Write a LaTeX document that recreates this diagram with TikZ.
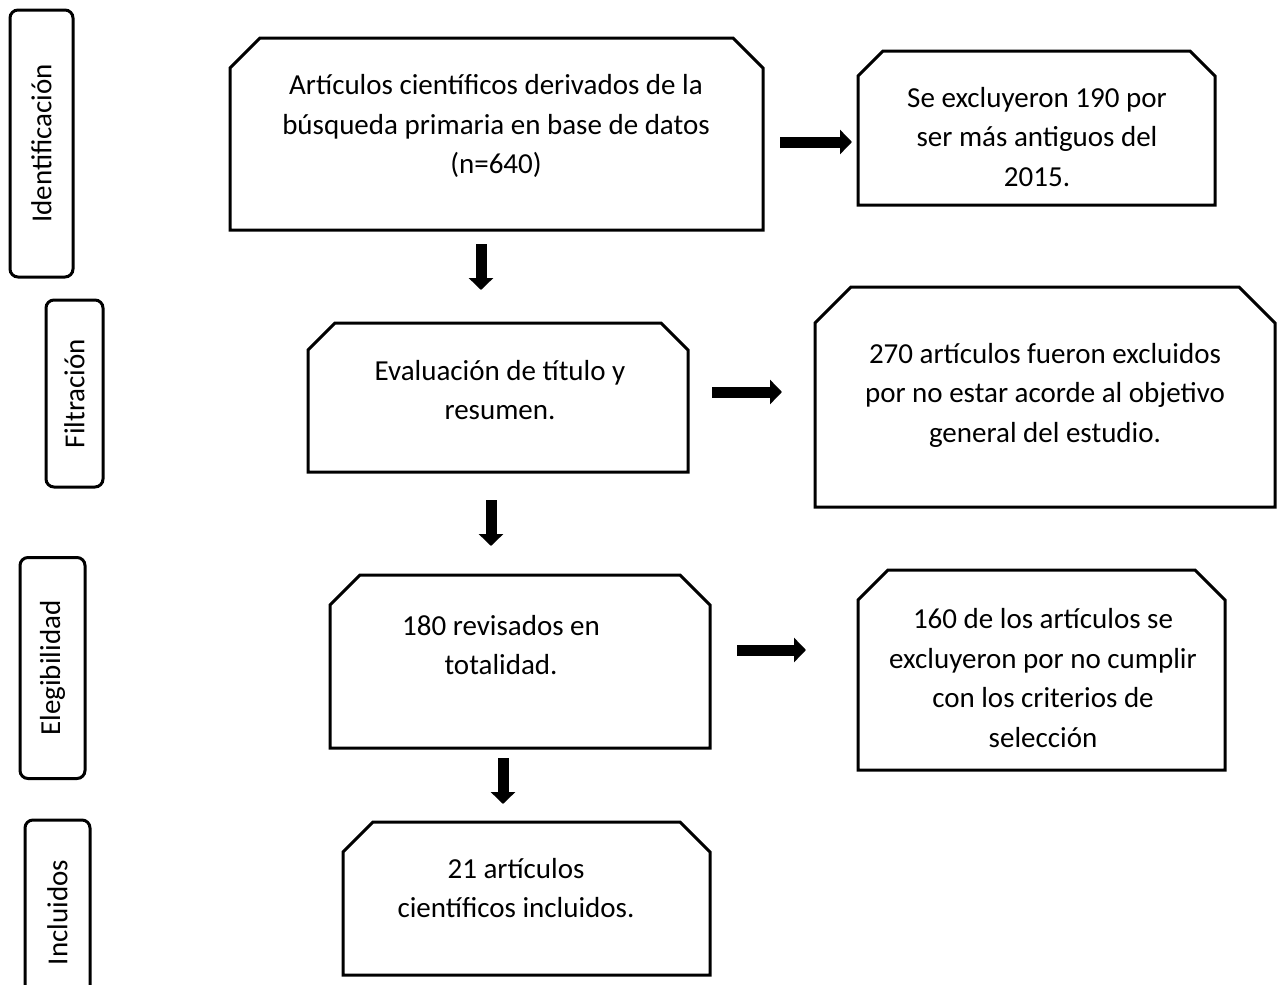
\documentclass[tikz,border=0pt]{standalone}
\usepackage{fontspec}
\setmainfont{Carlito}
\usetikzlibrary{arrows.meta}

\tikzset{every picture/.style={line width=1.5pt}}
\tikzset{
  etapa/.style={draw,rectangle,rounded corners=4pt,rotate=90,inner sep=0pt,font=\fontsize{14.5}{17}\selectfont},
  caja/.style={rectangle,inner sep=0pt,outer sep=0pt},
  texto/.style={align=center,inner sep=0pt,font=\fontsize{14.5}{19.75}\selectfont},
  flecha/.style={line width=5.5pt,-{Triangle[length=6pt,width=12pt]}}
}
% box outline with both top corners cut off (yshift is flipped by yscale=-1)
\newcommand{\chaflan}[2]{%
  \draw (#1.south west) -- ([yshift=#2]#1.north west) -- ([xshift=#2]#1.north west)
    -- ([xshift=-#2]#1.north east) -- ([yshift=#2]#1.north east) -- (#1.south east) -- cycle;}

\begin{document}
\begin{tikzpicture}[x=0.5pt,y=0.5pt,yscale=-1,xscale=1]
\clip (0,0) rectangle (1282,985);

%Stages
\node [etapa, minimum width=133.5pt, minimum height=31.5pt] (idf) at (41.5,143.5) {Identificación};
\node [etapa, minimum width=93.5pt, minimum height=28.5pt] (fil) at (74.5,393.5) {Filtración};
\node [etapa, minimum width=110.5pt, minimum height=32.5pt] (ele) at (52.5,668) {Elegibilidad};
\node [etapa, minimum width=92.5pt, minimum height=32.5pt] (inc) at (57.5,912.5) {Incluidos};

%Main column
\node [caja, minimum width=266.5pt, minimum height=96pt] (art) at (496.5,134) {};
\chaflan{art}{15pt}
\node [texto] (tart) at (496,126) {Artículos científicos derivados de la\\búsqueda primaria en base de datos\\(n=640)};

\node [caja, minimum width=190pt, minimum height=74.5pt] (eva) at (498,397.5) {};
\chaflan{eva}{13.5pt}
\node [texto] (teva) at (500,390) {Evaluación de título y\\resumen.};

\node [caja, minimum width=190pt, minimum height=86.5pt] (rev) at (520,661.5) {};
\chaflan{rev}{15pt}
\node [texto] (trev) at (501,645) {180 revisados en\\totalidad.};

\node [caja, minimum width=183.5pt, minimum height=76.5pt] (inl) at (526.5,898.5) {};
\chaflan{inl}{15pt}
\node [texto] (tinl) at (516,888) {21 artículos\\científicos incluidos.};

%Exclusions
\node [caja, minimum width=178.5pt, minimum height=77pt] (exa) at (1036.5,128) {};
\chaflan{exa}{12.5pt}
\node [texto] (texa) at (1037,137) {Se excluyeron 190 por\\ser más antiguos del\\2015.};

\node [caja, minimum width=230pt, minimum height=110pt] (exb) at (1045,397) {};
\chaflan{exb}{18pt}
\node [texto] (texb) at (1045,395) {270 artículos fueron excluidos\\por no estar acorde al objetivo\\general del estudio.};

\node [caja, minimum width=183.5pt, minimum height=100pt] (exc) at (1041.5,670) {};
\chaflan{exc}{15pt}
\node [texto] (texc) at (1043,678) {160 de los artículos se\\excluyeron por no cumplir\\con los criterios de\\selección};

%Arrows
\coordinate (a1s) at (481,244);  \coordinate (a1e) at (481,290);
\coordinate (a2s) at (491,500);  \coordinate (a2e) at (491,546);
\coordinate (a3s) at (503,758);  \coordinate (a3e) at (503,804);
\coordinate (r1s) at (780,142);  \coordinate (r1e) at (852,142);
\coordinate (r2s) at (712,392);  \coordinate (r2e) at (782,392);
\coordinate (r3s) at (737,650);  \coordinate (r3e) at (806,650);

\draw [flecha] (a1s) -- (a1e);
\draw [flecha] (a2s) -- (a2e);
\draw [flecha] (a3s) -- (a3e);
\draw [flecha] (r1s) -- (r1e);
\draw [flecha] (r2s) -- (r2e);
\draw [flecha] (r3s) -- (r3e);

\end{tikzpicture}
\end{document}
